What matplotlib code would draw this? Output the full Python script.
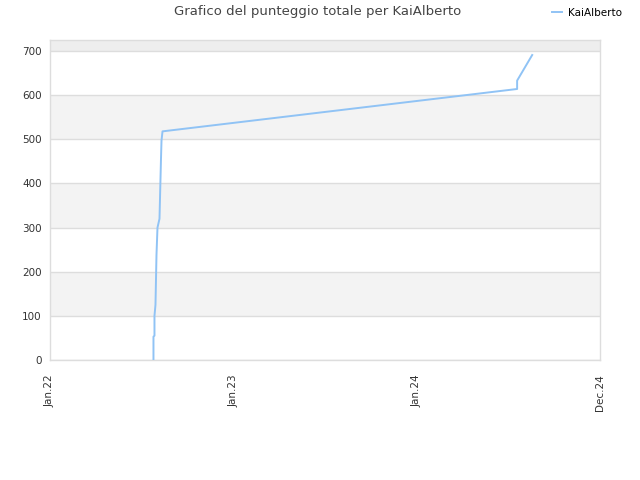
import matplotlib
matplotlib.use("Agg")
import matplotlib.pyplot as plt
import matplotlib.dates as mdates
import pandas as pd

dates = ["2022-07-26", "2022-07-26", "2022-07-28", "2022-07-28", "2022-07-30",
         "2022-08-01", "2022-08-03", "2022-08-07", "2022-08-10", "2022-08-11",
         "2022-08-13", "2024-07-19", "2024-07-19", "2024-08-18"]
scores = [0, 53, 55, 100, 125, 238, 300, 320, 457, 497, 518, 614, 633, 691]
yticks = [0, 100, 200, 300, 400, 500, 600, 700]
xtick_dates = ["2022-01-01", "2023-01-01", "2024-01-01", "2024-12-31"]
xtick_labels = ["Jan.22", "Jan.23", "Jan.24", "Dec.24"]
series_name = "KaiAlberto"
title = "Grafico del punteggio totale per KaiAlberto"

plt.rcParams['font.family'] = ['DejaVu Sans']
fig = plt.figure(figsize=(6.4, 4.8), dpi=100)
ax = fig.add_axes([50/640, 1-360/480, 550/640, 320/480])

x = pd.to_datetime(dates)
xt = pd.to_datetime(xtick_dates)
ax.set_xlim(xt[0], xt[-1])
ax.set_ylim(0, 725)

# alternating bands
for i in range(len(yticks)):
    lo = yticks[i]
    hi = yticks[i+1] if i+1 < len(yticks) else 725
    if i % 2 == 1:
        ax.axhspan(lo, hi, color="#f3f3f3", zorder=0, lw=0)
ax.axhspan(700, 725, color="#eeeeee", zorder=0, lw=0)
for yv in yticks:
    ax.axhline(yv, color="#dddddd", lw=1, zorder=1)

ax.plot(x, scores, color="#90c3f5", lw=1.4, zorder=3, label=series_name)

ax.set_yticks(yticks)
ax.set_xticks(xt)
ax.set_xticklabels(xtick_labels, rotation=90)
ax.tick_params(axis="y", labelsize=7.5, colors="#333333", length=0, pad=6)
ax.tick_params(axis="x", labelsize=7.5, colors="#333333", length=0, pad=10)
for s in ax.spines.values():
    s.set_color("#dddddd")
    s.set_linewidth(1)

fig.text(318/640, 1-12/480, title, ha="center", va="center", fontsize=9.5, color="#444444")
leg = fig.legend(loc="center", bbox_to_anchor=(587/640, 1-13/480), frameon=False,
                 fontsize=7.5, handlelength=1.0, handletextpad=0.6)
for t in leg.get_texts():
    t.set_color("#000000")

fig.savefig("out.png", dpi=100)
